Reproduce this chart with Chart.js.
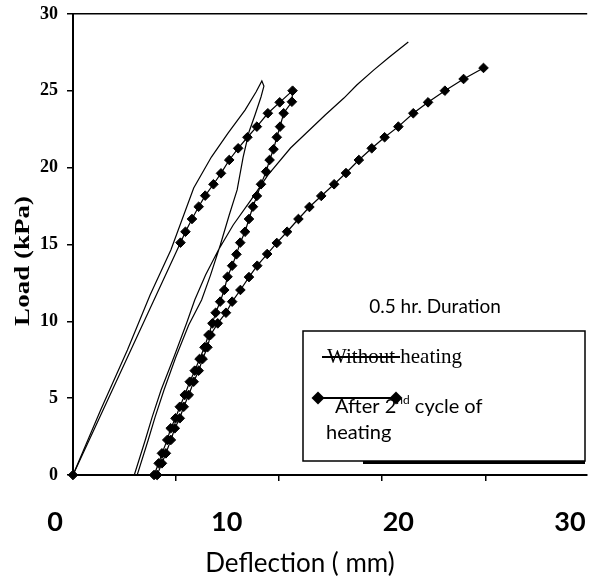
<!DOCTYPE html>
<html>
<head>
<meta charset="utf-8">
<script src="https://cdn.jsdelivr.net/npm/chart.js@4.4.0/dist/chart.umd.min.js"></script>
<style>
  html, body { margin: 0; padding: 0; background: #fff; }
  #wrap { width: 593px; height: 577px; }
</style>
</head>
<body>
<div id="wrap"><canvas id="c" width="593" height="577"></canvas></div>
<script>
// ---------------- data (deflection in mm, load in kPa) ----------------
const X_MIN = 1.05;
const X_MAX = 31.0;
const Y_MIN = 0;
const Y_MAX = 30;
const xTickLabels = [0, 10, 20, 30];
const xTickMarks = [7.02, 13.06, 19.06, 25.08];
const yTickLabels = [0, 5, 10, 15, 20, 25, 30];

const xTitle = 'Deflection ( mm)';
const yTitle = 'Load (kPa)';
const noteText = '0.5 hr. Duration';
const seriesNames = ['Without heating', 'After 2nd cycle of heating'];

// Without heating: loading, unloading, reloading
const plainLoadX = [1.05, 2.66, 4.22, 5.54, 6.75, 8.08, 9.11, 10.09, 11.07, 11.71, 12.05];
const plainLoadY = [0, 4.23, 8.13, 11.71, 14.64, 18.68, 20.69, 22.26, 23.75, 24.92, 25.64];
const plainUnloadX = [12.17, 12.0, 11.65, 11.30, 10.96, 10.61, 10.15, 9.63, 9.06, 8.54, 7.79, 7.04, 6.35, 5.83, 5.43, 4.79];
const plainUnloadY = [25.31, 24.6, 23.43, 22.32, 20.69, 18.55, 16.92, 14.97, 13.01, 11.39, 9.76, 7.68, 5.53, 3.77, 2.28, 0];
const plainReloadX = [4.62, 5.26, 5.66, 6.18, 6.93, 7.67, 8.14, 8.77, 9.52, 10.38, 11.42, 12.40, 13.72, 14.70, 15.74, 16.83, 17.58, 18.56, 19.48, 20.58];
const plainReloadY = [0, 2.28, 3.77, 5.53, 7.68, 9.89, 11.39, 13.01, 14.64, 16.27, 17.9, 19.52, 21.28, 22.32, 23.43, 24.53, 25.38, 26.35, 27.2, 28.18];

// After 2nd cycle of heating: loading, unloading, reloading
const heatLoadX = [1.05, 7.31, 7.60, 7.98, 8.37, 8.75, 9.23, 9.67, 10.15, 10.67, 11.21, 11.76, 12.40, 13.09, 13.84];
const heatLoadY = [0, 15.12, 15.83, 16.66, 17.46, 18.18, 18.92, 19.63, 20.5, 21.26, 21.98, 22.67, 23.54, 24.25, 25.01];
const heatUnloadX = [13.80, 13.32, 13.11, 12.92, 12.73, 12.50, 12.30, 12.0, 11.76, 11.53, 11.30, 11.07, 10.79, 10.57, 10.32, 10.05, 9.86, 9.62, 9.36, 9.17, 8.94, 8.71, 8.42, 8.14, 7.85, 7.56, 7.27, 7.02, 6.74, 6.54, 6.23, 6.04, 5.77];
const heatUnloadY = [24.29, 23.54, 22.67, 21.98, 21.2, 20.5, 19.74, 18.92, 18.16, 17.46, 16.66, 15.83, 15.12, 14.36, 13.62, 12.9, 12.04, 11.28, 10.56, 9.87, 9.11, 8.31, 7.55, 6.79, 6.07, 5.21, 4.44, 3.69, 3.04, 2.28, 1.41, 0.76, 0];
const heatReloadX = [5.95, 6.23, 6.46, 6.75, 6.98, 7.27, 7.50, 7.79, 8.08, 8.37, 8.60, 8.88, 9.06, 9.48, 9.96, 10.32, 10.80, 11.30, 11.78, 12.36, 12.92, 13.52, 14.18, 14.82, 15.51, 16.26, 16.95, 17.70, 18.45, 19.20, 20.0, 20.87, 21.73, 22.71, 23.80, 24.96];
const heatReloadY = [0, 0.76, 1.41, 2.28, 3.04, 3.69, 4.44, 5.21, 6.07, 6.79, 7.55, 8.31, 9.11, 9.87, 10.56, 11.28, 12.04, 12.88, 13.62, 14.38, 15.10, 15.83, 16.66, 17.44, 18.16, 18.92, 19.65, 20.5, 21.26, 21.98, 22.67, 23.54, 24.25, 25.01, 25.77, 26.49];

// ---------------- build ----------------
function pts(xs, ys) { return xs.map((x, i) => ({ x: x, y: ys[i] })); }
const plainData = pts(plainLoadX, plainLoadY).concat(pts(plainUnloadX, plainUnloadY), pts(plainReloadX, plainReloadY));
const heatData = pts(heatLoadX, heatLoadY).concat(pts(heatUnloadX, heatUnloadY), pts(heatReloadX, heatReloadY));

const SANS = 'Lato, "Open Sans", sans-serif';
const SERIF = '"Liberation Serif", "DejaVu Serif", serif';

function zeroPad(scale) {
  scale.paddingLeft = 0; scale.paddingRight = 0; scale.paddingTop = 0; scale.paddingBottom = 0;
}

function diamond(ctx, x, y, r) {
  ctx.beginPath();
  ctx.moveTo(x - r, y); ctx.lineTo(x, y - r); ctx.lineTo(x + r, y); ctx.lineTo(x, y + r);
  ctx.closePath(); ctx.fill();
}

const overlay = {
  id: 'overlay',
  afterDraw(chart) {
    const ctx = chart.ctx;
    ctx.save();
    ctx.fillStyle = '#000';
    ctx.strokeStyle = '#000';

    // y axis title (stretched like the original)
    ctx.save();
    ctx.translate(23.5, 261);
    ctx.rotate(-Math.PI / 2);
    ctx.scale(1.35, 1);
    ctx.font = 'bold 20px ' + SERIF;
    ctx.textAlign = 'center';
    ctx.textBaseline = 'middle';
    ctx.fillText(yTitle, 0, 0);
    ctx.restore();

    // x axis title
    ctx.font = '26px ' + SANS;
    ctx.textAlign = 'center';
    ctx.textBaseline = 'alphabetic';
    ctx.fillText(xTitle, 300, 572);

    // note
    ctx.font = '19px ' + SANS;
    ctx.fillText(noteText, 435, 313);

    // legend box
    ctx.fillStyle = '#fff';
    ctx.fillRect(303, 331, 282, 130);
    ctx.lineWidth = 1.5;
    ctx.strokeRect(303, 331, 282, 130);
    ctx.fillStyle = '#000';
    ctx.fillRect(363, 461, 222, 3);

    // entry 1
    ctx.textAlign = 'left';
    ctx.font = '21px ' + SERIF;
    ctx.fillText(seriesNames[0], 327, 363);
    ctx.lineWidth = 2;
    ctx.beginPath(); ctx.moveTo(322, 357); ctx.lineTo(400, 357); ctx.stroke();

    // entry 2: "After 2nd cycle of" / "heating"
    let x = 335;
    ctx.font = '20px ' + SANS;
    ctx.fillText('After 2', x, 413);
    x += ctx.measureText('After 2').width;
    ctx.font = '12px ' + SANS;
    ctx.fillText('nd', x, 404);
    x += ctx.measureText('nd').width;
    ctx.font = '20px ' + SANS;
    ctx.fillText(' cycle of', x, 413);
    ctx.fillText('heating', 326, 439);
    ctx.beginPath(); ctx.moveTo(318, 398); ctx.lineTo(396, 398); ctx.stroke();
    diamond(ctx, 318, 398, 6.5);
    diamond(ctx, 396, 398, 6.5);

    ctx.restore();
  }
};

new Chart(document.getElementById('c'), {
  type: 'scatter',
  data: {
    datasets: [
      {
        label: seriesNames[0],
        data: plainData,
        showLine: true,
        borderColor: '#000',
        borderWidth: 1.2,
        pointRadius: 0,
        pointHoverRadius: 0,
        tension: 0,
        clip: false
      },
      {
        label: seriesNames[1],
        data: heatData,
        showLine: true,
        borderColor: '#000',
        borderWidth: 1.2,
        pointStyle: 'rectRot',
        pointRadius: 4.8,
        pointBorderWidth: 1,
        pointBackgroundColor: '#000',
        pointBorderColor: '#000',
        tension: 0,
        clip: false
      }
    ]
  },
  options: {
    responsive: false,
    animation: false,
    devicePixelRatio: 1,
    layout: { padding: { top: 14, left: 0, right: 0, bottom: 0 } },
    plugins: { legend: { display: false }, tooltip: { enabled: false } },
    scales: {
      x: {
        type: 'linear',
        position: 'bottom',
        min: X_MIN, max: X_MAX,
        afterBuildTicks(scale) { scale.ticks = xTickMarks.map(v => ({ value: v })); },
        afterFit(scale) { zeroPad(scale); scale.height = 6; },
        ticks: { display: false },
        grid: { display: true, drawOnChartArea: false, drawTicks: true, tickLength: 6, color: '#000', lineWidth: 1.5 },
        border: { display: true, color: '#000', width: 2 }
      },
      xl: {
        type: 'linear',
        position: 'bottom',
        min: X_MIN, max: X_MAX,
        afterBuildTicks(scale) { scale.ticks = xTickLabels.map(v => ({ value: v })); },
        afterFit(scale) { zeroPad(scale); scale.height = 96; },
        ticks: {
          autoSkip: false, maxRotation: 0, minRotation: 0, padding: 25, color: '#000',
          font: { family: SANS, size: 27, weight: 'bold' },
          callback: v => String(v)
        },
        grid: { display: false, drawTicks: false },
        border: { display: false }
      },
      y: {
        type: 'linear',
        min: Y_MIN, max: Y_MAX,
        afterBuildTicks(scale) { scale.ticks = yTickLabels.map(v => ({ value: v })); },
        afterFit(scale) { zeroPad(scale); scale.width = 73; },
        ticks: { padding: 9, color: '#000', font: { family: SERIF, size: 18, weight: 'bold' }, callback: v => String(v) },
        grid: {
          display: true, drawOnChartArea: true, drawTicks: true, tickLength: 6,
          color: c => (c.tick && c.tick.value === Y_MAX) ? '#000' : 'rgba(0,0,0,0)',
          tickColor: '#000', lineWidth: 1.5
        },
        border: { display: true, color: '#000', width: 2 }
      }
    }
  },
  plugins: [overlay]
});
</script>
</body>
</html>
